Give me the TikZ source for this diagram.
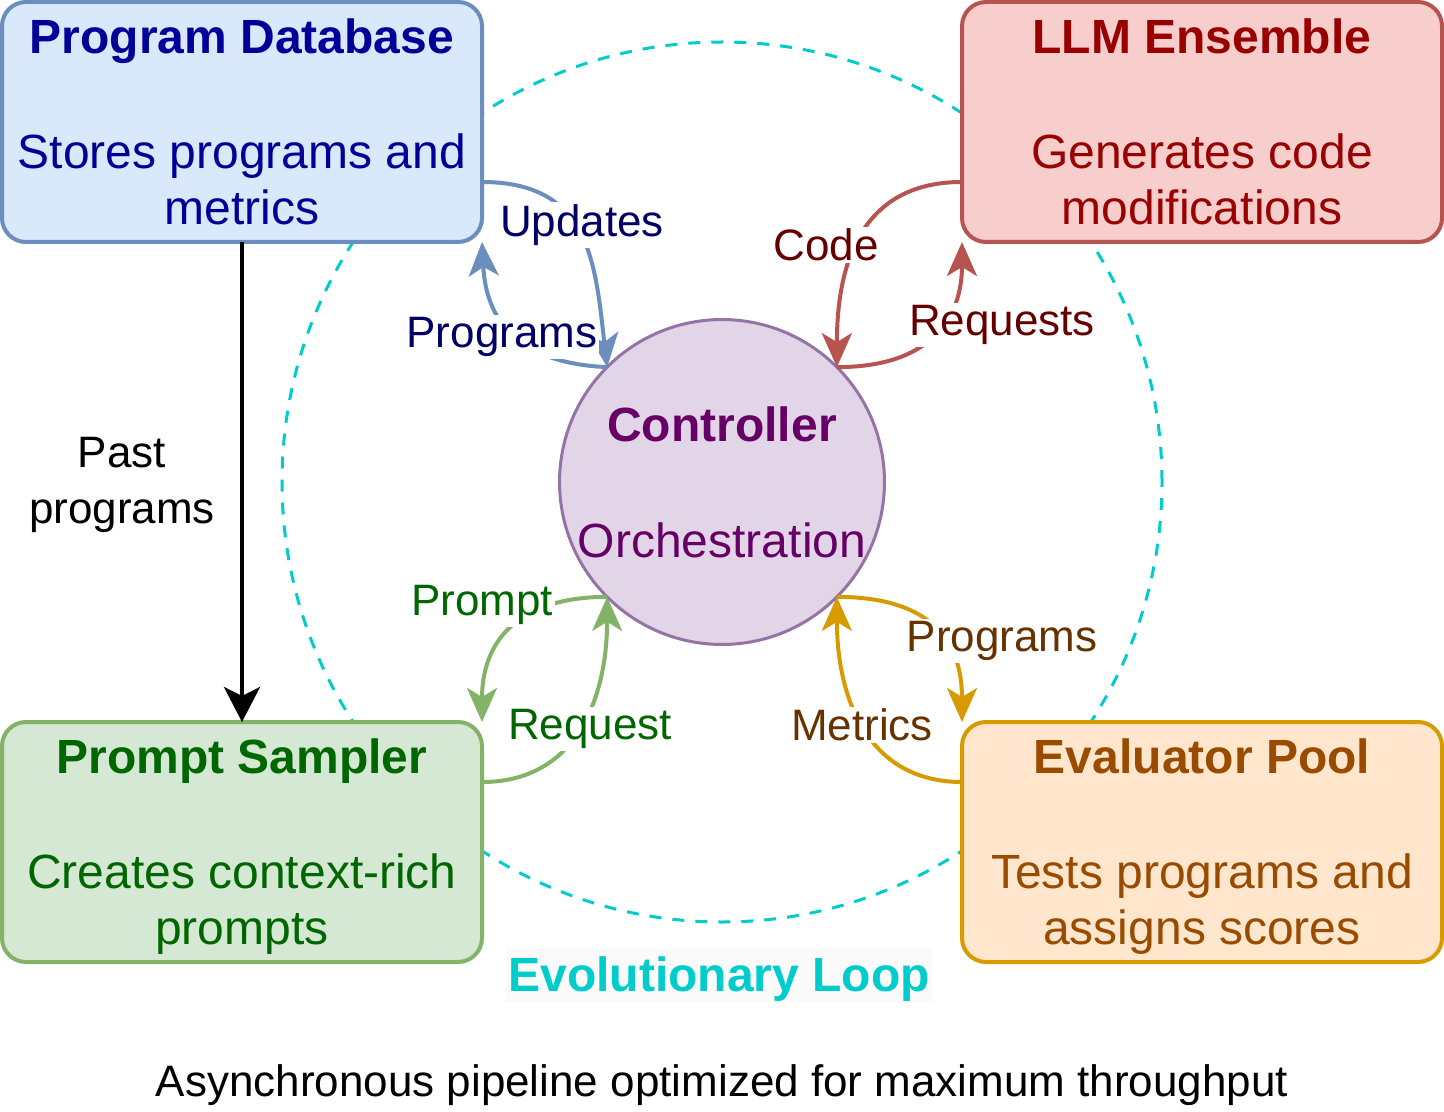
\documentclass[tikz,border=0pt]{standalone}
\usepackage{fontspec}
\setmainfont{Liberation Sans}
\usetikzlibrary{arrows.meta}

\definecolor{dbfill}{HTML}{DAE8FC}
\definecolor{dbline}{HTML}{6C8EBF}
\definecolor{dbtext}{HTML}{000099}
\definecolor{dblabel}{HTML}{000066}
\definecolor{llmfill}{HTML}{F8CECC}
\definecolor{llmline}{HTML}{B85450}
\definecolor{llmtext}{HTML}{990000}
\definecolor{llmlabel}{HTML}{660000}
\definecolor{psfill}{HTML}{D5E8D4}
\definecolor{psline}{HTML}{82B366}
\definecolor{pstext}{HTML}{006600}
\definecolor{evfill}{HTML}{FFE6CC}
\definecolor{evline}{HTML}{D79B00}
\definecolor{evtext}{HTML}{994C00}
\definecolor{evlabel}{HTML}{663300}
\definecolor{ctfill}{HTML}{E1D5E7}
\definecolor{ctline}{HTML}{9673A6}
\definecolor{cttext}{HTML}{660066}
\definecolor{loopcol}{HTML}{00CCCC}
\definecolor{loopbg}{HTML}{FAFAFA}

\begin{document}
\begin{tikzpicture}[x=0.5pt, y=-0.5pt,
    box/.style={draw, line width=2pt, rounded corners=12pt, minimum width=240pt,
        minimum height=120pt, inner sep=0pt, outer sep=0pt, align=center,
        font=\fontsize{24}{28}\selectfont},
    hub/.style={draw, circle, line width=1.5pt, minimum size=160pt, inner sep=0pt,
        outer sep=0pt, align=center, font=\fontsize{24}{28}\selectfont},
    flow/.style={line width=2pt, -{Stealth[length=17pt, width=15pt, inset=4.5pt]}},
    lbl/.style={fill=white, inner sep=1pt, align=center, font=\fontsize{22}{28}\selectfont},
]
    \useasboundingbox (0,0) rectangle (1444,1112);

    % Dashed ring of the evolutionary loop
    \draw[loopcol, line width=1.5pt, dash pattern=on 6pt off 5.5pt] (722,482) circle[radius=220pt];

    % Four components and the controller
    \node[box, fill=dbfill, draw=dbline, text=dbtext] (pdb) at (242,122)
        {\textbf{Program Database}\\[29.5pt]Stores programs and\\metrics};
    \node[box, fill=llmfill, draw=llmline, text=llmtext] (llm) at (1202,122)
        {\textbf{LLM Ensemble}\\[29.5pt]Generates code\\modifications};
    \node[box, fill=psfill, draw=psline, text=pstext] (sampler) at (242,842)
        {\textbf{Prompt Sampler}\\[29.5pt]Creates context-rich\\\smash{prompts}};
    \node[box, fill=evfill, draw=evline, text=evtext] (evalpool) at (1202,842)
        {\textbf{Evaluator Pool}\\[29.5pt]Tests programs and\\\smash{assigns scores}};
    \node[hub, fill=ctfill, draw=ctline, text=cttext] (ctrl) at (722,482)
        {\textbf{Controller}\\[30pt]Orchestration};

    % Database <-> controller
    \draw[flow, dbline] ([yshift=-30pt]pdb.east) .. controls +(108,0) and +(-12,-105) .. (ctrl.135);
    \draw[flow, dbline] (ctrl.135) .. controls +(-90,-4) and +(4,78) .. (pdb.south east);
    \node[lbl, text=dblabel] (lupdates) at (582,225) {Updates};
    \node[lbl, text=dblabel] (lprogs) at (502,337) {Programs};

    % LLM ensemble <-> controller
    \draw[flow, llmline] ([yshift=-30pt]llm.west) .. controls +(-100,0) and +(0,-105) .. (ctrl.45);
    \draw[flow, llmline] (ctrl.45) .. controls +(95,0) and +(0,75) .. (llm.south west);
    \node[lbl, text=llmlabel] (lcode) at (826,245) {Code};
    \node[lbl, text=llmlabel] (lreq) at (1002,325) {Requests};

    % Prompt sampler <-> controller
    \draw[flow, psline] (ctrl.-135) .. controls +(-90,0) and +(0,-80) .. (sampler.north east);
    \draw[flow, psline] ([yshift=30pt]sampler.east) .. controls +(95,0) and +(0,100) .. (ctrl.-135);
    \node[lbl, text=pstext] (lprompt) at (482,605) {Prompt};
    \node[lbl, text=pstext] (lrequest) at (590,729) {Request};

    % Evaluator pool <-> controller
    \draw[flow, evline] (ctrl.-45) .. controls +(95,0) and +(0,-80) .. (evalpool.north west);
    \draw[flow, evline] ([yshift=30pt]evalpool.west) .. controls +(-95,0) and +(0,100) .. (ctrl.-45);
    \node[lbl, text=evlabel] (levprogs) at (1002,641) {Programs};
    \node[lbl, text=evlabel] (lmetrics) at (862,725) {Metrics};

    % Past programs go straight to the sampler
    \draw[line width=2pt, -{Stealth[length=17.5pt, width=18pt, inset=4.5pt]}] (pdb.south) -- (sampler.north);
    \node[lbl, fill=none] (lpast) at (122,485) {Past\\programs};

    % Loop title and caption
    \node[fill=loopbg, text=loopcol, inner xsep=1pt, inner ysep=0pt, text height=21.7pt,
        text depth=5.1pt, font=\fontsize{24}{28}\selectfont\bfseries] (looptitle) at (719,975) {Evolutionary Loop};
    \node[font=\fontsize{22}{28}\selectfont] (caption) at (722,1085)
        {Asynchronous pipeline optimized for maximum throughput};
\end{tikzpicture}
\end{document}
